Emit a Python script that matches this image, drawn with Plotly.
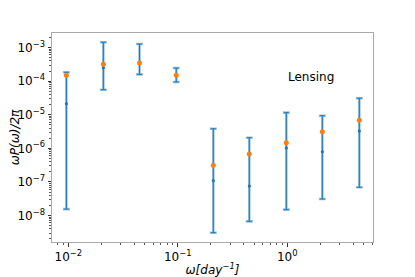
import plotly.graph_objects as go

freq = [0.0096, 0.0209, 0.0447, 0.0968, 0.211, 0.45, 0.98, 2.09, 4.55]
power_center = [2.12e-5, 2.51e-4, 3.7e-4, 1.5e-4, 1.09e-7, 7.55e-8, 1.02e-6, 7.93e-7, 3.27e-6]
power_upper = [1.83e-4, 1.43e-3, 1.27e-3, 2.45e-4, 3.83e-6, 2.07e-6, 1.15e-5, 9.34e-6, 3.08e-5]
power_lower = [1.55e-8, 5.55e-5, 1.59e-4, 9.4e-5, 3.08e-9, 6.7e-9, 1.49e-8, 3.1e-8, 6.9e-8]
power_lensing = [1.49e-4, 3.16e-4, 3.46e-4, 1.49e-4, 3.12e-7, 6.76e-7, 1.47e-6, 3.12e-6, 6.81e-6]

x_ticks = [0.01, 0.1, 1]
x_ticktext = ["10<sup>−2</sup>", "10<sup>−1</sup>", "10<sup>0</sup>"]
y_ticks = [1e-8, 1e-7, 1e-6, 1e-5, 1e-4, 1e-3]
y_ticktext = ["10<sup>−8</sup>", "10<sup>−7</sup>", "10<sup>−6</sup>", "10<sup>−5</sup>", "10<sup>−4</sup>", "10<sup>−3</sup>"]

x_minor = [k * 10.0 ** e for e in range(-3, 1) for k in range(2, 10)]
y_minor = [k * 10.0 ** e for e in range(-9, -2) for k in range(2, 10)]

plus = [u - c for u, c in zip(power_upper, power_center)]
minus = [c - l for c, l in zip(power_center, power_lower)]

fig = go.Figure()
fig.add_trace(go.Scatter(
    x=freq, y=power_center, mode="markers",
    marker=dict(color="rgba(31,119,180,0.5)", size=3),
    error_y=dict(type="data", symmetric=False, array=plus, arrayminus=minus,
                 color="rgba(31,119,180,0.45)", thickness=2.6, width=3.5),
    showlegend=False, hoverinfo="skip"))
fig.add_trace(go.Scatter(
    x=freq, y=power_center, mode="markers",
    marker=dict(color="#1f77b4", size=3),
    error_y=dict(type="data", symmetric=False, array=plus, arrayminus=minus,
                 color="#1f77b4", thickness=1, width=2.5),
    showlegend=False))
fig.add_trace(go.Scatter(
    x=freq, y=power_lensing, mode="markers",
    marker=dict(color="#ff7f0e", size=5),
    showlegend=False))

fig.add_annotation(text="Lensing", xref="paper", yref="paper", x=0.807, y=0.789,
                   xanchor="center", yanchor="middle",
                   showarrow=False, font=dict(size=12, color="black"))

axis_common = dict(showline=True, mirror=True, linecolor="#aaaaaa", linewidth=1,
                   showgrid=False, zeroline=False, ticks="outside", ticklen=3.5,
                   tickcolor="#333333", tickfont=dict(size=12, color="black"),
                   automargin=False)

fig.update_xaxes(type="log", range=[-2.149, 0.783], tickvals=x_ticks, ticktext=x_ticktext,
                 title=dict(text="<i>ω[day<sup>−1</sup>]</i>", font=dict(size=12, color="black"), standoff=0),
                 minor=dict(ticks="outside", ticklen=2, tickcolor="#555555", showgrid=False,
                            tickvals=x_minor),
                 **axis_common)
fig.update_yaxes(type="log", range=[-8.789, -2.568], tickvals=y_ticks, ticktext=y_ticktext,
                 title=dict(text="<i>ωP(ω)/2π</i>", font=dict(size=12, color="black"), standoff=0),
                 minor=dict(ticks="outside", ticklen=2, tickcolor="#555555", showgrid=False,
                            tickvals=y_minor),
                 **axis_common)

# page body has an 8px default margin, so the figure is sized and offset to compensate
fig.update_layout(width=407, height=269, margin=dict(l=44, r=42, t=25, b=35),
                  paper_bgcolor="white", plot_bgcolor="white",
                  font=dict(family="DejaVu Sans", size=12, color="black"))

fig.write_html("out.html")
